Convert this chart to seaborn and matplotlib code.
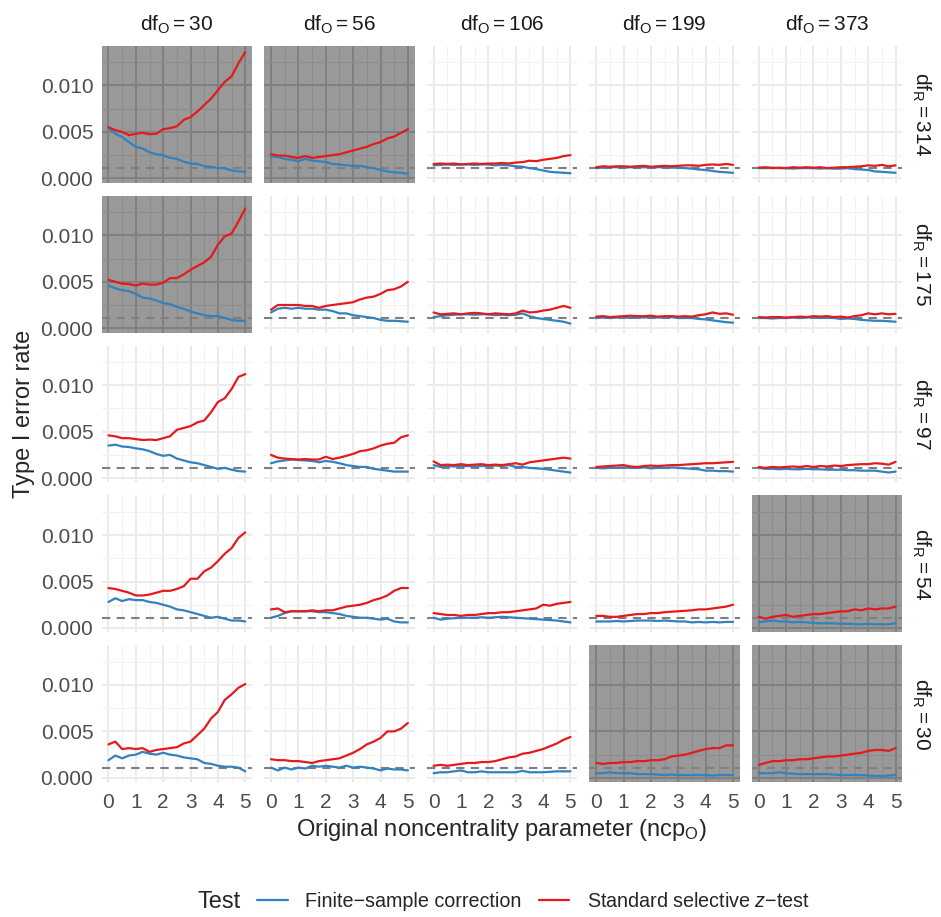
import numpy as np
import pandas as pd
import seaborn as sns
import matplotlib.pyplot as plt
from matplotlib.ticker import MultipleLocator, FormatStrFormatter
from matplotlib.lines import Line2D

# facet levels
df_O = [30, 56, 106, 199, 373]
df_R = [314, 175, 97, 54, 30]
ncp = [0, 0.25, 0.5, 0.75, 1, 1.25, 1.5, 1.75, 2, 2.25, 2.5,
       2.75, 3, 3.25, 3.5, 3.75, 4, 4.25, 4.5, 4.75, 5]
nominal = 0.0011
tests = ['Finite\u2212sample correction', 'Standard selective $\\mathit{z}$\u2212test']

# type I error rates (x 1e-3), one list per df_O column
fsc_314 = [[5.4, 4.8, 4.45, 3.9, 3.4, 3.2, 2.8, 2.6, 2.5, 2.2, 2.1, 1.8, 1.6, 1.55, 1.3, 1.25, 1.1, 1.1, 0.85, 0.75, 0.7],
           [2.35, 2.3, 2.1, 2.0, 1.85, 2.1, 1.9, 1.85, 1.75, 1.55, 1.5, 1.4, 1.35, 1.35, 1.2, 1.1, 0.9, 0.75, 0.65, 0.6, 0.5],
           [1.4, 1.45, 1.5, 1.45, 1.5, 1.5, 1.45, 1.5, 1.5, 1.4, 1.45, 1.4, 1.3, 1.25, 1.1, 1.0, 0.85, 0.7, 0.65, 0.6, 0.55],
           [1.1, 1.15, 1.2, 1.2, 1.15, 1.2, 1.2, 1.2, 1.15, 1.2, 1.2, 1.15, 1.15, 1.1, 1.05, 0.95, 0.9, 0.8, 0.7, 0.65, 0.6],
           [1.1, 1.1, 1.15, 1.1, 1.1, 1.05, 1.1, 1.1, 1.1, 1.05, 1.1, 1.05, 1.05, 1.1, 1.0, 0.95, 0.9, 0.75, 0.7, 0.65, 0.6]]
sz_314 = [[5.5, 5.2, 5.0, 4.65, 4.8, 4.9, 4.75, 4.8, 5.3, 5.4, 5.6, 6.3, 6.6, 7.2, 7.9, 8.6, 9.5, 10.4, 11.0, 12.4, 13.6],
          [2.6, 2.45, 2.45, 2.3, 2.2, 2.4, 2.2, 2.3, 2.4, 2.5, 2.6, 2.8, 3.0, 3.2, 3.4, 3.7, 3.9, 4.3, 4.5, 4.9, 5.3],
          [1.55, 1.6, 1.55, 1.6, 1.5, 1.55, 1.6, 1.55, 1.6, 1.6, 1.65, 1.6, 1.7, 1.75, 1.9, 1.85, 2.0, 2.1, 2.2, 2.4, 2.5],
          [1.2, 1.3, 1.25, 1.3, 1.3, 1.25, 1.3, 1.35, 1.25, 1.3, 1.35, 1.3, 1.35, 1.4, 1.4, 1.35, 1.45, 1.5, 1.45, 1.55, 1.45],
          [1.15, 1.2, 1.1, 1.15, 1.1, 1.2, 1.15, 1.2, 1.15, 1.2, 1.1, 1.15, 1.2, 1.2, 1.25, 1.3, 1.4, 1.35, 1.45, 1.3, 1.4]]

fsc_175 = [[4.6, 4.3, 4.1, 4.0, 3.7, 3.3, 3.2, 3.0, 2.7, 2.6, 2.3, 2.1, 1.8, 1.6, 1.4, 1.3, 1.3, 1.1, 0.9, 0.8, 0.8],
           [1.7, 2.1, 2.2, 2.1, 2.2, 2.1, 2.1, 2.0, 2.0, 1.85, 1.6, 1.6, 1.4, 1.3, 1.2, 1.1, 0.9, 0.8, 0.8, 0.75, 0.7],
           [1.2, 1.3, 1.4, 1.45, 1.5, 1.5, 1.45, 1.5, 1.5, 1.4, 1.45, 1.4, 1.45, 1.6, 1.3, 1.1, 1.0, 0.9, 0.8, 0.7, 0.5],
           [1.1, 1.15, 1.1, 1.15, 1.2, 1.1, 1.2, 1.15, 1.2, 1.15, 1.15, 1.2, 1.1, 1.1, 1.1, 1.0, 0.95, 0.85, 0.75, 0.65, 0.6],
           [1.1, 1.1, 1.05, 1.1, 1.1, 1.15, 1.1, 1.15, 1.2, 1.1, 1.15, 1.1, 1.0, 1.05, 1.0, 0.9, 0.85, 0.8, 0.8, 0.75, 0.7]]
sz_175 = [[5.2, 5.0, 4.8, 4.75, 4.6, 4.8, 4.7, 4.7, 4.9, 5.4, 5.4, 5.8, 6.3, 6.7, 7.1, 7.7, 9.0, 9.9, 10.2, 11.5, 12.9],
          [2.0, 2.5, 2.5, 2.5, 2.5, 2.4, 2.4, 2.2, 2.4, 2.5, 2.6, 2.7, 2.8, 3.1, 3.3, 3.4, 3.7, 4.1, 4.2, 4.5, 5.0],
          [1.7, 1.5, 1.55, 1.6, 1.5, 1.6, 1.65, 1.6, 1.5, 1.6, 1.55, 1.5, 1.6, 1.9, 1.7, 1.75, 1.9, 2.0, 2.2, 2.4, 2.2],
          [1.25, 1.3, 1.2, 1.25, 1.3, 1.35, 1.3, 1.3, 1.35, 1.25, 1.3, 1.3, 1.25, 1.3, 1.25, 1.4, 1.5, 1.7, 1.55, 1.6, 1.45],
          [1.2, 1.15, 1.2, 1.2, 1.15, 1.2, 1.25, 1.2, 1.3, 1.25, 1.3, 1.2, 1.25, 1.15, 1.3, 1.4, 1.6, 1.5, 1.6, 1.5, 1.55]]

fsc_97 = [[3.5, 3.6, 3.4, 3.35, 3.2, 3.1, 2.9, 2.6, 2.4, 2.5, 2.1, 1.9, 1.7, 1.6, 1.4, 1.2, 1.0, 1.1, 0.9, 0.75, 0.7],
          [1.6, 1.8, 1.9, 2.0, 1.95, 1.9, 1.85, 1.7, 1.85, 1.75, 1.6, 1.4, 1.3, 1.2, 1.2, 1.0, 0.9, 0.8, 0.7, 0.7, 0.7],
          [1.4, 1.2, 1.3, 1.25, 1.3, 1.3, 1.25, 1.3, 1.3, 1.35, 1.3, 1.4, 1.2, 1.2, 1.1, 1.05, 1.0, 0.9, 0.8, 0.7, 0.6],
          [1.1, 1.05, 1.1, 1.1, 1.15, 1.1, 1.1, 1.15, 1.05, 1.1, 1.1, 1.15, 1.1, 1.05, 1.0, 0.95, 0.8, 0.8, 0.75, 0.75, 0.7],
          [1.1, 1.0, 1.0, 0.95, 1.0, 0.95, 0.95, 1.0, 0.95, 0.95, 0.9, 0.9, 0.9, 0.85, 0.85, 0.8, 0.8, 0.8, 0.7, 0.6, 0.7]]
sz_97 = [[4.6, 4.5, 4.3, 4.3, 4.2, 4.1, 4.15, 4.1, 4.3, 4.5, 5.2, 5.4, 5.6, 6.0, 6.2, 7.1, 8.2, 8.6, 9.6, 10.9, 11.2],
         [2.5, 2.2, 2.1, 2.05, 2.0, 2.05, 2.0, 2.0, 2.3, 2.05, 2.2, 2.4, 2.6, 2.9, 3.0, 3.2, 3.5, 3.7, 3.8, 4.4, 4.6],
         [1.8, 1.4, 1.45, 1.4, 1.5, 1.4, 1.45, 1.5, 1.4, 1.45, 1.4, 1.5, 1.6, 1.45, 1.7, 1.8, 1.9, 2.0, 2.1, 2.2, 2.1],
         [1.2, 1.25, 1.3, 1.35, 1.4, 1.25, 1.2, 1.3, 1.35, 1.3, 1.35, 1.4, 1.4, 1.45, 1.5, 1.55, 1.6, 1.6, 1.65, 1.7, 1.75],
         [1.2, 1.1, 1.2, 1.15, 1.2, 1.25, 1.2, 1.3, 1.2, 1.3, 1.25, 1.35, 1.3, 1.4, 1.45, 1.5, 1.5, 1.6, 1.55, 1.45, 1.75]]

fsc_54 = [[2.8, 3.2, 2.9, 3.1, 3.0, 3.0, 2.8, 2.7, 2.5, 2.3, 2.0, 1.9, 1.7, 1.5, 1.3, 1.1, 1.2, 1.0, 0.8, 0.8, 0.7],
          [1.1, 1.3, 1.6, 1.8, 1.8, 1.8, 1.8, 1.7, 1.7, 1.6, 1.5, 1.3, 1.2, 1.1, 1.1, 1.0, 0.9, 1.0, 0.7, 0.6, 0.6],
          [1.1, 0.9, 1.0, 1.05, 1.1, 1.1, 1.1, 1.15, 1.1, 1.15, 1.2, 1.15, 1.1, 1.05, 1.0, 0.95, 0.9, 0.85, 0.8, 0.7, 0.6],
          [0.7, 0.7, 0.7, 0.75, 0.7, 0.75, 0.8, 0.8, 0.8, 0.75, 0.8, 0.75, 0.7, 0.7, 0.6, 0.65, 0.6, 0.65, 0.6, 0.65, 0.65],
          [0.6, 0.7, 0.8, 0.7, 0.7, 0.6, 0.65, 0.6, 0.55, 0.5, 0.5, 0.5, 0.45, 0.45, 0.4, 0.4, 0.45, 0.4, 0.4, 0.4, 0.5]]
sz_54 = [[4.3, 4.2, 4.0, 3.8, 3.5, 3.5, 3.6, 3.8, 4.0, 4.0, 4.2, 4.5, 5.3, 5.3, 6.1, 6.5, 7.2, 8.0, 8.6, 9.7, 10.3],
         [2.0, 2.1, 1.7, 1.8, 1.8, 1.8, 1.9, 1.8, 1.9, 1.9, 2.1, 2.3, 2.4, 2.5, 2.7, 3.0, 3.2, 3.5, 4.0, 4.3, 4.3],
         [1.6, 1.5, 1.4, 1.4, 1.3, 1.4, 1.4, 1.5, 1.6, 1.6, 1.7, 1.7, 1.8, 1.9, 2.0, 2.1, 2.5, 2.4, 2.6, 2.7, 2.8],
         [1.3, 1.3, 1.2, 1.2, 1.3, 1.4, 1.5, 1.5, 1.6, 1.6, 1.7, 1.75, 1.8, 1.85, 1.9, 2.0, 2.0, 2.1, 2.2, 2.3, 2.5],
         [1.2, 1.0, 1.2, 1.3, 1.4, 1.2, 1.3, 1.4, 1.5, 1.5, 1.6, 1.7, 1.8, 1.8, 2.0, 1.9, 2.1, 2.0, 2.1, 2.1, 2.3]]

fsc_30 = [[1.9, 2.4, 2.1, 2.4, 2.5, 2.8, 2.6, 2.5, 2.7, 2.5, 2.4, 2.2, 2.1, 2.0, 1.6, 1.5, 1.3, 1.2, 1.2, 1.1, 0.7],
          [1.1, 0.8, 1.1, 0.9, 1.1, 1.0, 1.3, 1.2, 1.3, 1.2, 1.1, 1.3, 1.1, 1.2, 1.1, 1.0, 0.8, 1.0, 0.9, 0.9, 0.8],
          [0.5, 0.6, 0.6, 0.7, 0.8, 0.6, 0.6, 0.7, 0.6, 0.6, 0.6, 0.6, 0.6, 0.75, 0.6, 0.6, 0.6, 0.65, 0.7, 0.7, 0.7],
          [0.5, 0.5, 0.6, 0.5, 0.5, 0.5, 0.4, 0.4, 0.4, 0.35, 0.3, 0.35, 0.3, 0.3, 0.3, 0.3, 0.3, 0.25, 0.3, 0.3, 0.3],
          [0.5, 0.5, 0.5, 0.6, 0.5, 0.45, 0.4, 0.4, 0.4, 0.4, 0.4, 0.35, 0.3, 0.3, 0.3, 0.3, 0.25, 0.2, 0.2, 0.25, 0.3]]
sz_30 = [[3.6, 3.9, 3.1, 3.2, 3.1, 3.2, 2.8, 3.0, 3.1, 3.2, 3.3, 3.7, 3.9, 4.6, 5.3, 6.4, 7.1, 8.4, 9.0, 9.7, 10.1],
         [2.0, 1.9, 1.9, 1.8, 1.8, 1.7, 1.6, 1.8, 1.9, 2.0, 2.1, 2.4, 2.7, 3.1, 3.6, 3.9, 4.3, 5.0, 5.0, 5.3, 5.9],
         [1.3, 1.4, 1.3, 1.4, 1.5, 1.6, 1.6, 1.7, 1.7, 1.8, 2.0, 2.2, 2.3, 2.6, 2.7, 2.9, 3.1, 3.4, 3.7, 4.1, 4.4],
         [1.6, 1.5, 1.6, 1.6, 1.7, 1.7, 1.8, 1.8, 1.9, 1.9, 2.0, 2.3, 2.4, 2.5, 2.7, 2.9, 3.1, 3.2, 3.2, 3.5, 3.5],
         [1.4, 1.6, 1.8, 1.8, 1.9, 1.9, 2.0, 2.0, 2.1, 2.2, 2.3, 2.3, 2.4, 2.5, 2.6, 2.7, 2.9, 3.0, 3.0, 2.9, 3.2]]

fsc_rows = {314: fsc_314, 175: fsc_175, 97: fsc_97, 54: fsc_54, 30: fsc_30}
sz_rows = {314: sz_314, 175: sz_175, 97: sz_97, 54: sz_54, 30: sz_30}

# panels shaded grey
shaded = [(314, 30), (314, 56), (175, 30), (54, 373), (30, 199), (30, 373)]

records = []
for r in df_R:
    for j, o in enumerate(df_O):
        for test, vals in ((tests[0], fsc_rows[r][j]), (tests[1], sz_rows[r][j])):
            for x, v in zip(ncp, vals):
                records.append({'df_R': r, 'df_O': o, 'ncp': x, 'rate': v / 1000, 'test': test})
data = pd.DataFrame(records)

sns.set_style('white')
plt.rcParams['font.family'] = ['Liberation Sans', 'DejaVu Sans']
plt.rcParams['mathtext.fontset'] = 'custom'
plt.rcParams['mathtext.rm'] = 'Liberation Sans'
plt.rcParams['mathtext.it'] = 'Liberation Sans:italic'
plt.rcParams['mathtext.default'] = 'regular'

palette = {tests[0]: '#3182BD', tests[1]: '#E41A1C'}

fig, axes = plt.subplots(5, 5, figsize=(9.41, 9.17), dpi=100, sharex=True, sharey=True)
fig.subplots_adjust(left=0.108, right=0.959, top=0.95, bottom=0.147, wspace=0.08, hspace=0.095)

for i, r in enumerate(df_R):
    for j, o in enumerate(df_O):
        ax = axes[i, j]
        sub = data[(data.df_R == r) & (data.df_O == o)]
        grey = (r, o) in shaded
        ax.set_facecolor('#999999' if grey else 'white')
        ax.axhline(nominal, color='#7F7F7F', ls=(0, (4, 3)), lw=1.5, zorder=1)
        sns.lineplot(data=sub, x='ncp', y='rate', hue='test', palette=palette,
                     ax=ax, legend=False, lw=1.6, zorder=3)
        ax.xaxis.set_major_locator(MultipleLocator(1))
        ax.xaxis.set_minor_locator(MultipleLocator(0.5))
        ax.yaxis.set_major_locator(MultipleLocator(0.005))
        ax.yaxis.set_minor_locator(MultipleLocator(0.0025))
        ax.yaxis.set_major_formatter(FormatStrFormatter('%.3f'))
        ax.grid(which='major', color='#808080' if grey else '#EBEBEB', lw=1.4)
        ax.grid(which='minor', color='#8C8C8C' if grey else '#F2F2F2', lw=0.8)
        ax.set_axisbelow(True)
        for s in ax.spines.values():
            s.set_visible(False)
        ax.tick_params(which='both', length=0, labelsize=15, labelcolor='#4D4D4D')
        ax.tick_params(axis='x', pad=8)
        ax.tick_params(axis='y', pad=6)
        ax.set_xlabel('')
        ax.set_ylabel('')
        if i == 0:
            ax.text(0.5, 1.155, r'$\mathrm{df}_{\mathrm{O}} = %d$' % o, transform=ax.transAxes,
                    ha='center', va='center', fontsize=15, color='#1A1A1A')
        if j == 4:
            ax.text(1.125, 0.5, r'$\mathrm{df}_{\mathrm{R}} = %d$' % r, transform=ax.transAxes,
                    ha='center', va='center', rotation=-90, fontsize=15, color='#1A1A1A')

fig.text(0.026, 0.5485, 'Type I error rate', rotation=90, ha='center', va='center', fontsize=17)
fig.text(0.533, 0.095, r'Original noncentrality parameter (ncp$_{\mathrm{O}}$)',
         ha='center', va='center', fontsize=17)

handles = [Line2D([], [], color=palette[t], lw=1.6) for t in tests]
fig.text(0.2327, 0.016, 'Test', ha='center', va='center', fontsize=17)
fig.legend(handles, tests, loc='center', bbox_to_anchor=(0.567, 0.017), ncol=2, frameon=False,
           fontsize=14.2, handlelength=1.55, columnspacing=0.85, handletextpad=0.9)

fig.savefig('out.png', dpi=100)
